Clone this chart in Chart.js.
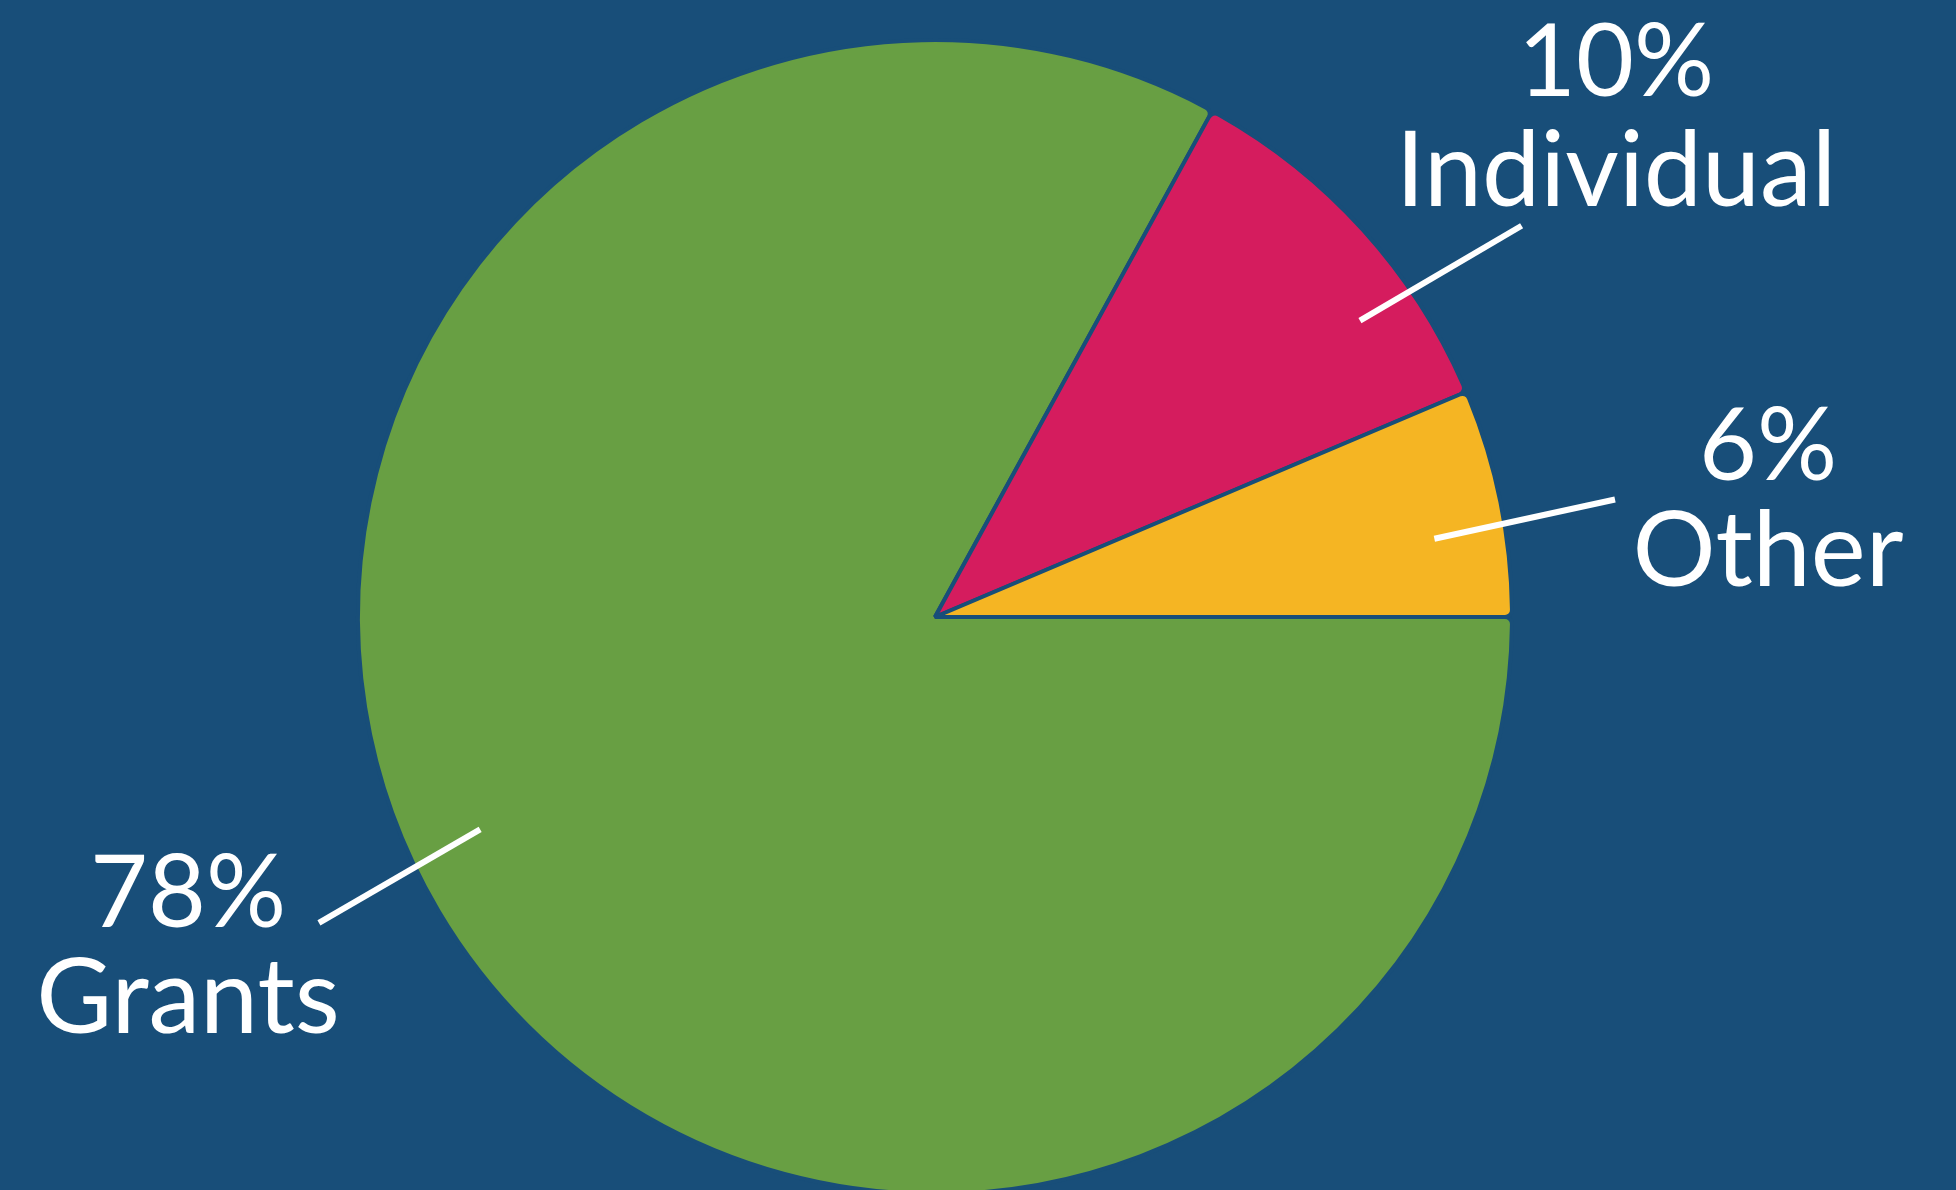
<!DOCTYPE html>
<html>
<head>
<meta charset="utf-8">
<script src="https://cdn.jsdelivr.net/npm/chart.js@4/dist/chart.umd.min.js"></script>
<style>
  html, body { margin: 0; padding: 0; background: #184e79; overflow: hidden; }
  canvas { display: block; }
</style>
</head>
<body>
<canvas id="pie" width="1956" height="1240"></canvas>
<script>
// funding sources, percent of total
var categories = ["Grants", "Individual", "Other"];
var shares = [78, 10, 6];

// where each callout sits, relative to the pie centre (angles in degrees, canvas direction)
var callouts = {
  Grants:     { a0: 154.97, r0: 0.87, a1: 153.6, r1: 1.192, dx: -747, y1: 310, y2: 416 },
  Individual: { a0: -34.9, r0: 0.898, a1: -33.7, r1: 1.222, dx: 681, y1: -521, y2: -411 },
  Other:      { a0: -8.9, r0: 0.876, a1: -9.8, r1: 1.196, dx: 833, y1: -137, y2: -31 }
};

var calloutPlugin = {
  id: "callouts",
  afterDatasetsDraw: function(chart) {
    var ctx = chart.ctx;
    var arc = chart.getDatasetMeta(0).data[0];
    var cx = arc.x, cy = arc.y, R = arc.outerRadius;
    ctx.save();
    ctx.strokeStyle = "#ffffff";
    ctx.fillStyle = "#ffffff";
    ctx.lineWidth = 6;
    ctx.textAlign = "center";
    ctx.textBaseline = "alphabetic";
    categories.forEach(function(name, i) {
      var c = callouts[name];
      var t0 = c.a0 * Math.PI / 180, t1 = c.a1 * Math.PI / 180;
      ctx.beginPath();
      ctx.moveTo(cx + Math.cos(t0) * R * c.r0, cy + Math.sin(t0) * R * c.r0);
      ctx.lineTo(cx + Math.cos(t1) * R * c.r1, cy + Math.sin(t1) * R * c.r1);
      ctx.stroke();
      ctx.font = "100px Lato";
      ctx.fillText(shares[i] + "%", cx + c.dx, cy + c.y1);
      ctx.font = "104px Lato";
      ctx.fillText(name, cx + c.dx, cy + c.y2);
    });
    ctx.restore();
  }
};

new Chart(document.getElementById("pie"), {
  type: "pie",
  data: {
    labels: categories,
    datasets: [
      {
        data: shares,
        backgroundColor: ["#689f43", "#d51c5e", "#f5b523"],
        borderColor: "#184e79",
        borderWidth: 4,
        borderRadius: 7,
      },
    ],
  },
  options: {
    responsive: false,
    animation: false,
    rotation: 90,
    layout: {
      padding: { left: 356, right: 442, top: 38, bottom: 44 },
    },
    plugins: {
      legend: { display: false },
      tooltip: { enabled: false },
    },
  },
  plugins: [calloutPlugin],
});
</script>
</body>
</html>
